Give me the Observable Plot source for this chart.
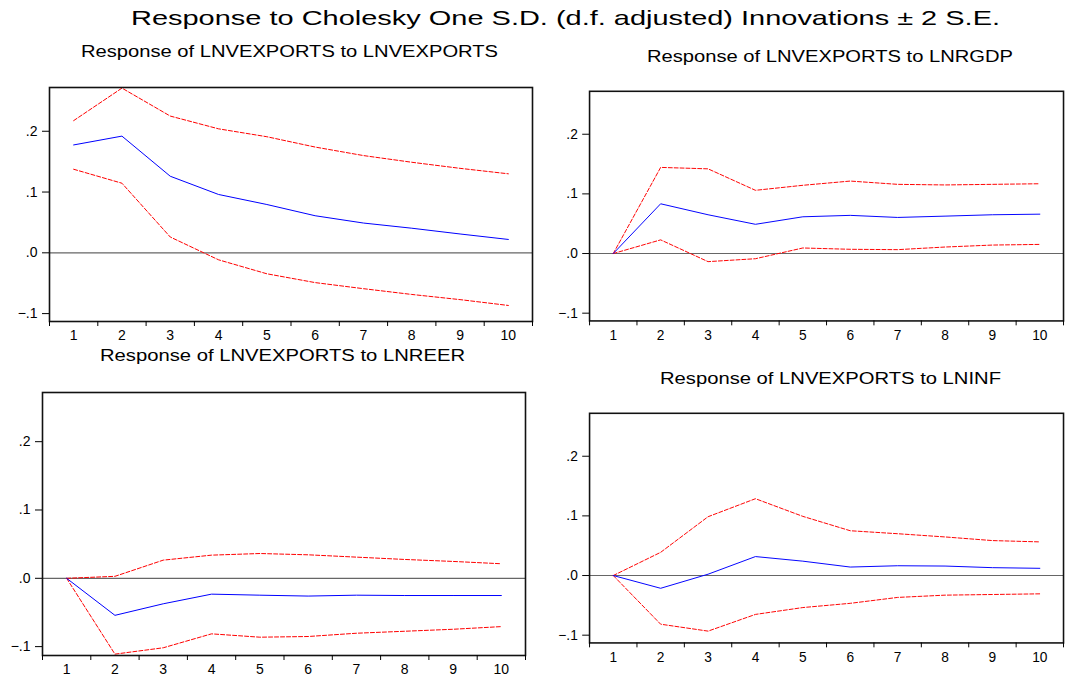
<!DOCTYPE html>
<html><head><meta charset="utf-8">
<script src="https://cdn.jsdelivr.net/npm/d3@7"></script>
<script src="https://cdn.jsdelivr.net/npm/@observablehq/plot@0.6"></script>
<style>
body{margin:0;background:#fff;}
#root{position:relative;width:1065px;height:679px;overflow:hidden;background:#fff;font-family:"Liberation Sans",Arial,sans-serif;}
.t{position:absolute;white-space:nowrap;color:#000;transform-origin:0 0;line-height:1;}
.panel{position:absolute;}
</style></head><body><div id="root"></div>
<script>
// ---- data ----
const periods = [1, 2, 3, 4, 5, 6, 7, 8, 9, 10];
const yTicks = [-0.1, 0, 0.1, 0.2];
const mainTitle = "Response to Cholesky One S.D. (d.f. adjusted) Innovations \u00b1 2 S.E.";

const vexTitle = "Response of LNVEXPORTS to LNVEXPORTS";
const vexResp = [0.1775, 0.192, 0.126, 0.096, 0.0795, 0.061, 0.049, 0.0405, 0.031, 0.022];
const vexUp   = [0.2175, 0.271, 0.225, 0.204, 0.191, 0.174, 0.160, 0.149, 0.139, 0.130];
const vexLo   = [0.1375, 0.1145, 0.026, -0.0115, -0.0345, -0.049, -0.059, -0.0685, -0.077, -0.0866];

const gdpTitle = "Response of LNVEXPORTS to LNRGDP";
const gdpResp = [0, 0.0834, 0.065, 0.049, 0.0616, 0.064, 0.0605, 0.0627, 0.065, 0.066];
const gdpUp   = [0, 0.1444, 0.142, 0.106, 0.1144, 0.1215, 0.116, 0.115, 0.116, 0.117];
const gdpLo   = [0, 0.0229, -0.0136, -0.0087, 0.0093, 0.0071, 0.0065, 0.0109, 0.0142, 0.0153];

const reerTitle = "Response of LNVEXPORTS to LNREER";
const reerResp = [0, -0.0542, -0.0373, -0.0232, -0.0247, -0.026, -0.0247, -0.0252, -0.0252, -0.0252];
const reerUp   = [0, 0.0029, 0.0266, 0.0339, 0.0363, 0.0344, 0.031, 0.0276, 0.0247, 0.0213];
const reerLo   = [0, -0.111, -0.1017, -0.0813, -0.0862, -0.0852, -0.0804, -0.0775, -0.0746, -0.0707];

const infTitle = "Response of LNVEXPORTS to LNINF";
const infResp = [0, -0.0214, 0.0022, 0.0318, 0.0241, 0.0142, 0.0164, 0.0159, 0.0132, 0.0121];
const infUp   = [0, 0.0389, 0.0986, 0.1288, 0.0992, 0.0751, 0.0701, 0.0647, 0.0586, 0.0564];
const infLo   = [0, -0.0816, -0.0932, -0.0652, -0.0537, -0.0466, -0.0367, -0.0329, -0.0318, -0.0307];

// ---- layout ----
const root = document.getElementById("root");
const FONT = '"Liberation Sans", Arial, sans-serif';

function addText(str, x0, x1, cy, fs) {
  const d = document.createElement("div");
  d.className = "t";
  d.textContent = str;
  d.style.fontSize = fs + "px";
  root.appendChild(d);
  const w = d.getBoundingClientRect().width;
  const k = (x1 - x0) / w;
  d.style.left = x0 + "px";
  d.style.top = (cy - 0.49 * fs) + "px";
  d.style.transform = `scaleX(${k})`;
}

const fmt = d => d3.format(".1f")(d).replace("0.", ".");

function panel(resp, up, lo, fx0, fx1, fy0, fy1) {
  const mL = 50, mT = 10, mR = 2, mB = 30;
  const rows = periods.map((p, i) => ({p, r: resp[i], u: up[i], l: lo[i]}));
  const chart = Plot.plot({
    width: fx1 - fx0 + mL + mR,
    height: fy1 - fy0 + mT + mB,
    marginLeft: mL, marginTop: mT, marginRight: mR, marginBottom: mB,
    style: {fontFamily: FONT, fontSize: "14px", color: "#000", background: "transparent", overflow: "visible"},
    x: {domain: [0.5, 10.5], axis: null},
    y: {domain: [-0.113, 0.272], axis: null},
    marks: [
      Plot.ruleY([0], {stroke: "#666", strokeWidth: 1.2}),
      Plot.line(rows, {x: "p", y: "u", stroke: "#ff0000", strokeWidth: 1, strokeDasharray: "4,2"}),
      Plot.line(rows, {x: "p", y: "l", stroke: "#ff0000", strokeWidth: 1, strokeDasharray: "4,2"}),
      Plot.line(rows, {x: "p", y: "r", stroke: "#0000ff", strokeWidth: 1}),
      Plot.frame({stroke: "#111", strokeWidth: 1.6}),
      Plot.axisY({ticks: yTicks, tickSize: 7, tickPadding: 5, tickFormat: fmt, fontSize: 14, label: null}),
      Plot.axisX({ticks: [0.5,1.5,2.5,3.5,4.5,5.5,6.5,7.5,8.5,9.5,10.5], tickSize: 5, tickFormat: () => "", label: null}),
      Plot.axisX({ticks: periods, tickSize: 0, tickPadding: 9, tickFormat: d => String(d), fontSize: 14, label: null})
    ]
  });
  const wrap = document.createElement("div");
  wrap.className = "panel";
  wrap.style.left = (fx0 - mL) + "px";
  wrap.style.top = (fy0 - mT) + "px";
  wrap.appendChild(chart);
  root.appendChild(wrap);
}

panel(vexResp, vexUp, vexLo, 49, 532, 87, 321);
panel(gdpResp, gdpUp, gdpLo, 590, 1073, 91, 325);
panel(reerResp, reerUp, reerLo, 42, 525, 392, 655);
panel(infResp, infUp, infLo, 590, 1073, 413, 647);

addText(mainTitle, 131, 1000, 17, 21);
addText(vexTitle, 81, 498, 52, 16);
addText(gdpTitle, 647, 1013, 57, 16);
addText(reerTitle, 100, 465, 356, 16);
addText(infTitle, 660, 1001, 379, 16);
</script>
</body></html>
